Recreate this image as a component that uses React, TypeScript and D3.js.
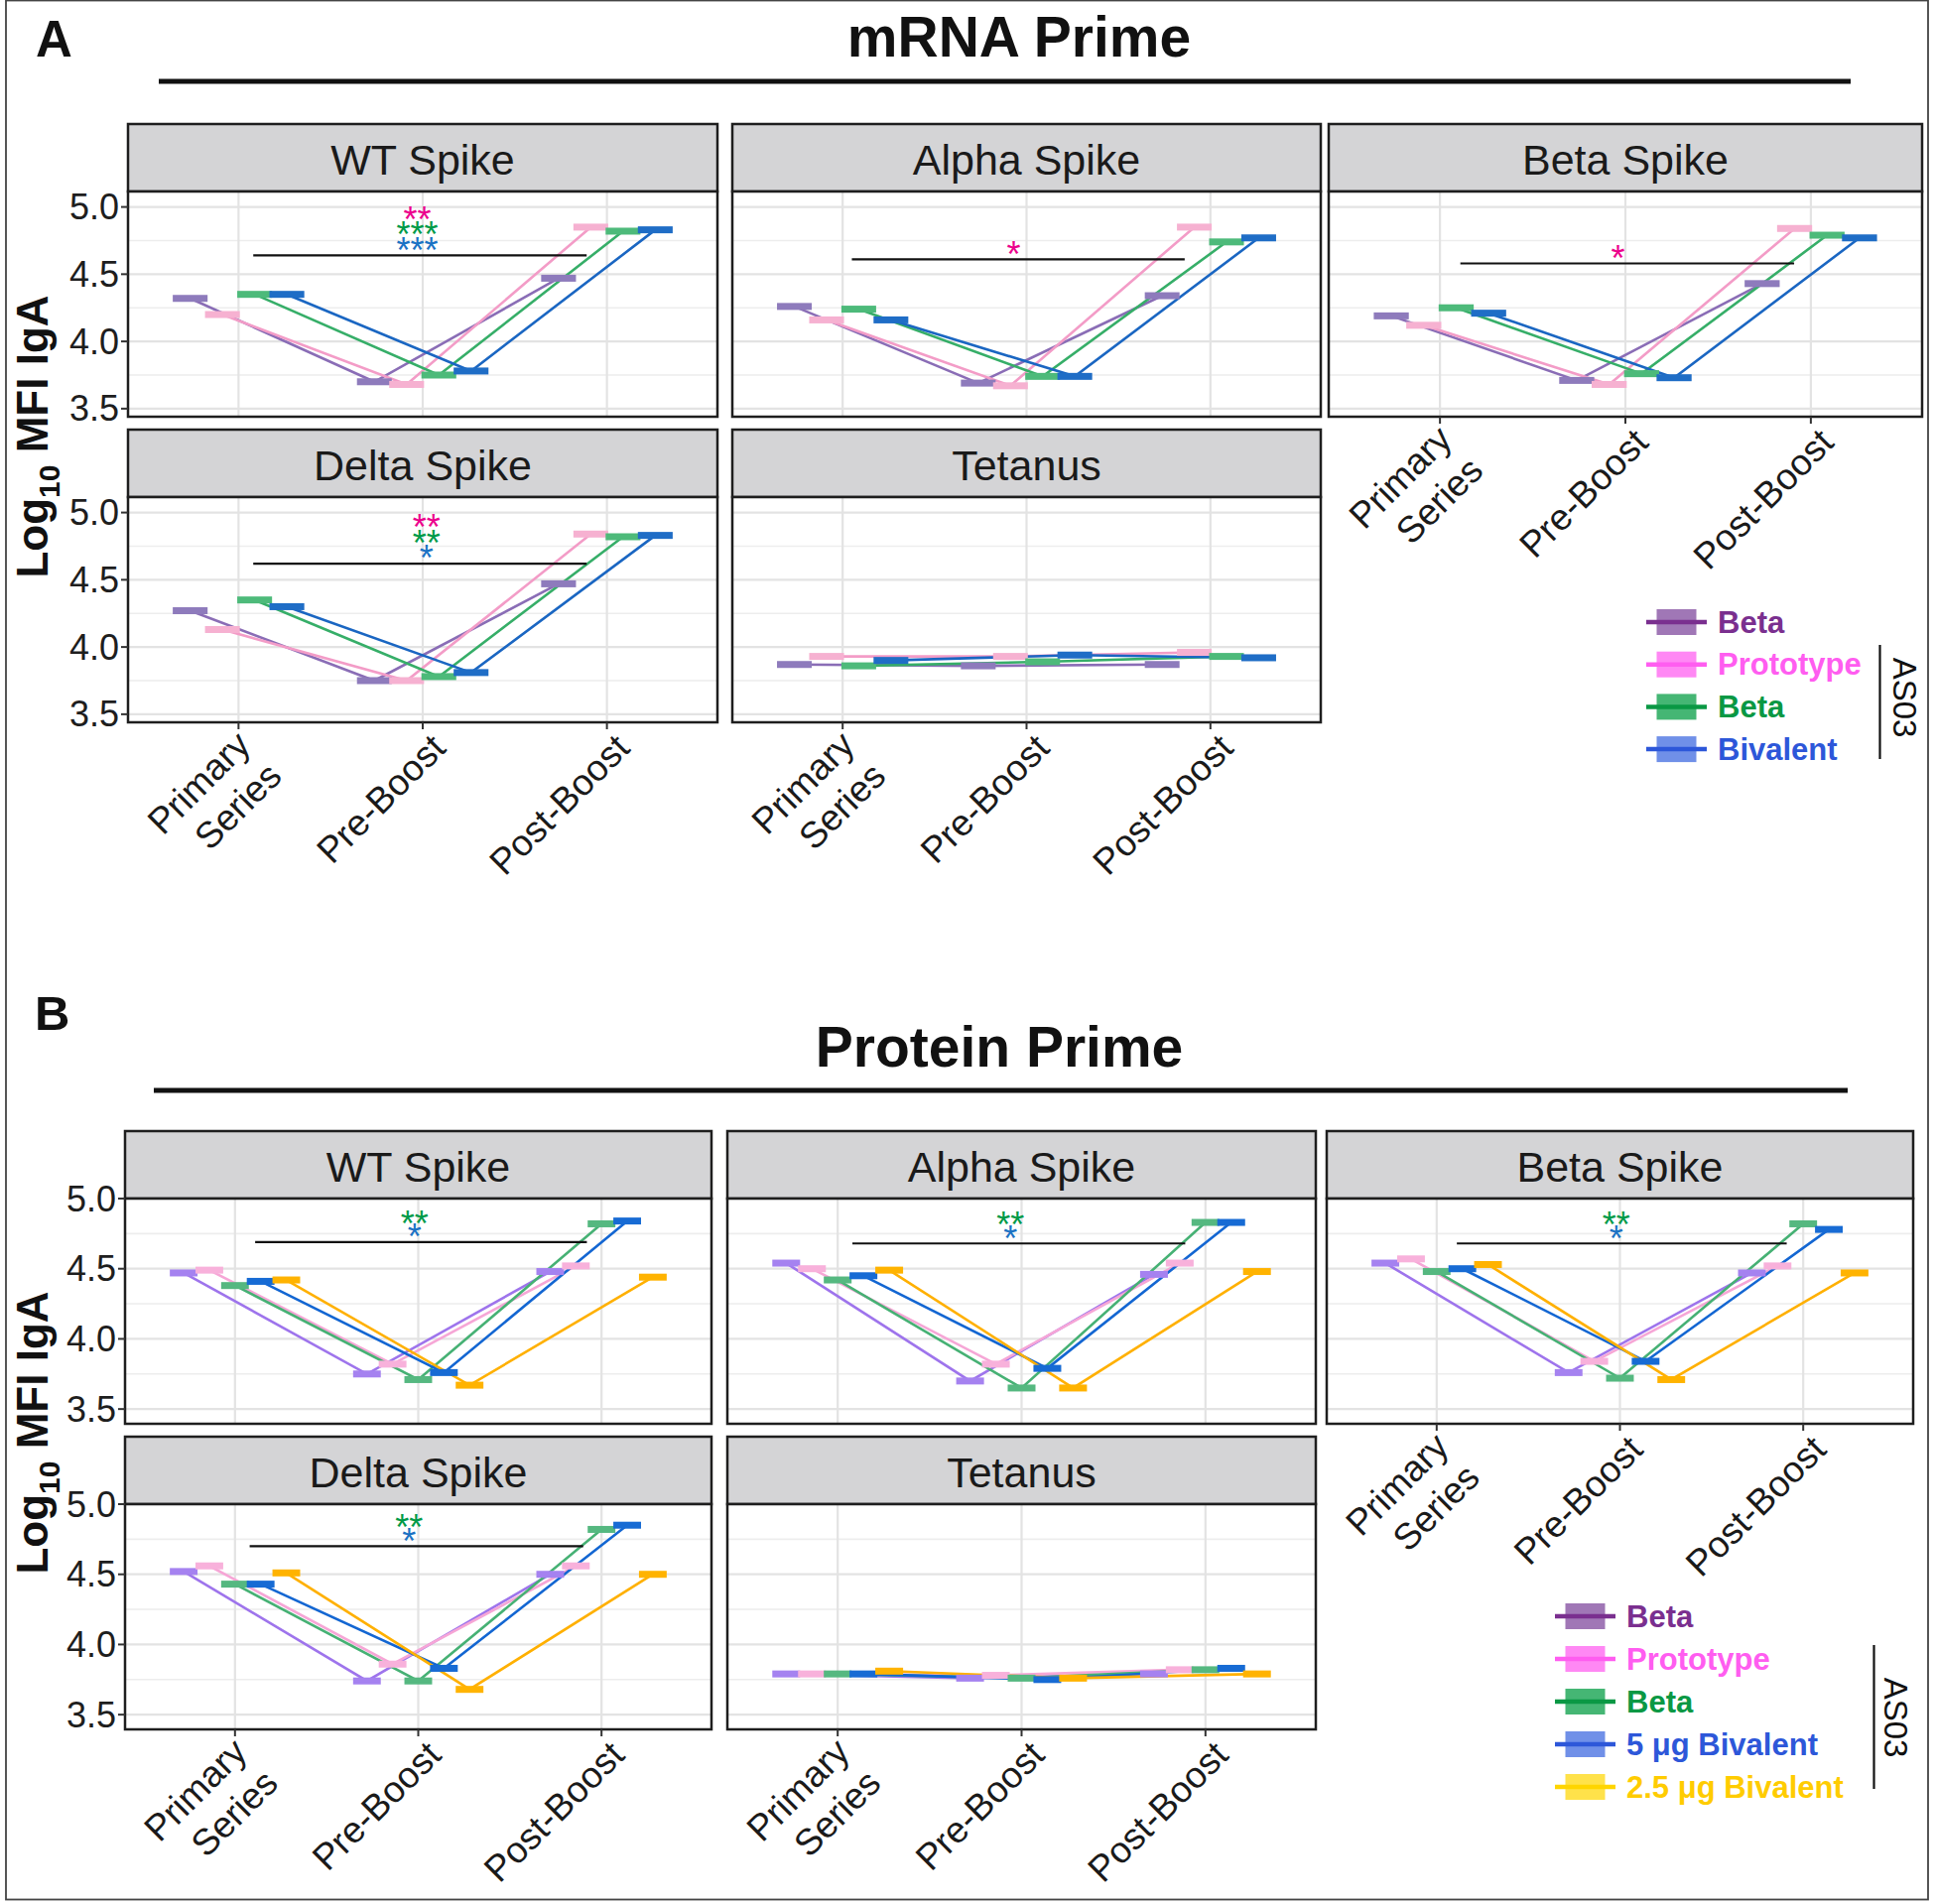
import React from "react";
import * as d3 from "d3";

const W = 1950;
const H = 1919;
const FONT = "'Liberation Sans', Arial, Helvetica, sans-serif";

// ---------- categories ----------
const timepoints = ["Primary Series", "Pre-Boost", "Post-Boost"];
const timepointLines = [["Primary", "Series"], ["Pre-Boost"], ["Post-Boost"]];
const antigens = ["WT Spike", "Alpha Spike", "Beta Spike", "Delta Spike", "Tetanus"];

const groupsA = ["Beta", "Prototype", "Beta", "Bivalent"];
const groupsB = ["Beta", "Prototype", "Beta", "5 μg Bivalent", "2.5 μg Bivalent"];

// ---------- series values (log10 MFI IgA), rows = groups, cols = timepoints ----------
const mrnaWT = [[4.32, 3.70, 4.47], [4.20, 3.68, 4.85], [4.35, 3.75, 4.82], [4.35, 3.78, 4.83]];
const mrnaAlpha = [[4.26, 3.69, 4.34], [4.16, 3.67, 4.85], [4.24, 3.74, 4.74], [4.16, 3.74, 4.77]];
const mrnaBeta = [[4.19, 3.71, 4.43], [4.12, 3.68, 4.84], [4.25, 3.76, 4.79], [4.21, 3.73, 4.77]];
const mrnaDelta = [[4.27, 3.75, 4.47], [4.13, 3.75, 4.84], [4.35, 3.78, 4.82], [4.30, 3.81, 4.83]];
const mrnaTetanus = [[3.87, 3.86, 3.87], [3.93, 3.93, 3.96], [3.86, 3.89, 3.93], [3.90, 3.94, 3.92]];

const proteinWT = [[4.47, 3.75, 4.48], [4.49, 3.82, 4.52], [4.38, 3.71, 4.82], [4.41, 3.76, 4.84], [4.42, 3.67, 4.44]];
const proteinAlpha = [[4.54, 3.70, 4.46], [4.50, 3.82, 4.54], [4.42, 3.65, 4.83], [4.45, 3.79, 4.83], [4.49, 3.65, 4.48]];
const proteinBeta = [[4.54, 3.76, 4.47], [4.57, 3.84, 4.52], [4.48, 3.72, 4.82], [4.50, 3.84, 4.78], [4.53, 3.71, 4.47]];
const proteinDelta = [[4.52, 3.74, 4.50], [4.56, 3.86, 4.56], [4.43, 3.74, 4.82], [4.43, 3.83, 4.85], [4.51, 3.68, 4.50]];
const proteinTetanus = [[3.79, 3.76, 3.79], [3.79, 3.78, 3.82], [3.79, 3.76, 3.82], [3.79, 3.75, 3.83], [3.81, 3.76, 3.79]];

// ---------- significance annotations ----------
const bracketYA = [4.64, 4.61, 4.58, 4.62, null];
const bracketXA = [[1.08, 2.89], [1.05, 2.86], [1.11, 2.91], [1.08, 2.89], null];
const starsA = [
  [["**", 1], ["***", 2], ["***", 3]],
  [["*", 1]],
  [["*", 1]],
  [["**", 1], ["**", 2], ["*", 3]],
  [],
];
const starXA = [1.97, 1.93, 1.96, 2.02, 2];

const bracketYB = [4.69, 4.68, 4.68, 4.70, null];
const bracketXB = [[1.11, 2.92], [1.08, 2.89], [1.11, 2.91], [1.08, 2.90], null];
const starsB = [
  [["**", 2], ["*", 3]],
  [["**", 2], ["*", 3]],
  [["**", 2], ["*", 3]],
  [["**", 2], ["*", 3]],
  [],
];
const starXB = [1.98, 1.94, 1.98, 1.95, 2];

const yMajor = [3.5, 4.0, 4.5, 5.0];
const yMinor = [3.75, 4.25, 4.75];

// ---------- styles ----------
const lineColA = ["#8A6DB6", "#F39CC7", "#36AE68", "#1A66C2"];
const barColA = ["#8E7BBC", "#F6B1D1", "#4DBA7A", "#1F6DC6"];
const lineColB = ["#9E74EC", "#F6A6D6", "#46B174", "#1366D2", "#FFB000"];
const barColB = ["#A582F0", "#F8B1DB", "#55B880", "#176BD4", "#FFB300"];
const starCol = ["#000", "#EC008C", "#009A48", "#1B72C4"];
const legTextA = ["#7A2F8F", "#FF5DF0", "#0A9844", "#2D57D9"];
const legBoxA = ["#A077B6", "#FF88F4", "#45B674", "#7090E8"];
const legLineA = ["#7A2F8F", "#FF5DF0", "#0A9844", "#2D57D9"];
const legTextB = ["#7A2F8F", "#FF5DF0", "#0A9844", "#2D57D9", "#FFCC00"];
const legBoxB = ["#A077B6", "#FF88F4", "#45B674", "#7090E8", "#FFE24A"];
const legLineB = ["#7A2F8F", "#FF5DF0", "#0A9844", "#2D57D9", "#FFD500"];

type PanelProps = {
  x0: number; x1: number; top: number; stripH: number; panelH: number;
  title: string; data: number[][]; lineCol: string[]; barCol: string[];
  yDomain: [number, number]; showY: boolean; showX: boolean;
  bracketY: number | null; bracketX: number[] | null; stars: any[]; starX: number;
  starGap: number;
};

const STAR_FS = 36;
const XLAB_FS = 37;

function Panel(p: PanelProps) {
  const py0 = p.top + p.stripH;
  const py1 = py0 + p.panelH;
  const xp = d3.scalePoint<string>().domain(timepoints).range([p.x0, p.x1]).padding(0.6);
  const step = xp.step();
  const xl = d3.scaleLinear().domain([0.4, 3.6]).range([p.x0, p.x1]);
  const y = d3.scaleLinear().domain(p.yDomain).range([py1, py0]);
  const n = p.data.length;
  const dodge = (0.7 * step) / n;
  const barW = dodge * 1.08;
  const barH = 7;
  const line = d3.line<[number, number]>().x((d) => d[0]).y((d) => d[1]);
  const off = (i: number) => (i - (n - 1) / 2) * dodge;

  const pts = p.data.map((vals, i) =>
    vals.map((v, j) => [(xp(timepoints[j]) as number) + off(i), y(v)] as [number, number])
  );

  const bracketPx = p.bracketY != null ? y(p.bracketY) : 0;
  const sx = xl(p.starX);

  return (
    <g>
      {/* strip */}
      <rect x={p.x0} y={p.top} width={p.x1 - p.x0} height={p.stripH} fill="#D4D4D6" stroke="#1E1E1E" strokeWidth={2.5} />
      <text x={(p.x0 + p.x1) / 2} y={p.top + 50.5} textAnchor="middle" fontSize={43} fill="#1A1A1A" fontFamily={FONT}>
        {p.title}
      </text>
      {/* panel */}
      <rect x={p.x0} y={py0} width={p.x1 - p.x0} height={p.panelH} fill="#FFFFFF" />
      {yMinor.map((t) => (
        <line key={"mn" + t} x1={p.x0} x2={p.x1} y1={y(t)} y2={y(t)} stroke="#EDEDED" strokeWidth={1.6} />
      ))}
      {yMajor.map((t) => (
        <line key={"mj" + t} x1={p.x0} x2={p.x1} y1={y(t)} y2={y(t)} stroke="#E3E3E3" strokeWidth={2.2} />
      ))}
      {timepoints.map((t) => (
        <line key={"vx" + t} x1={xp(t)} x2={xp(t)} y1={py0} y2={py1} stroke="#E3E3E3" strokeWidth={2.2} />
      ))}
      {/* series lines */}
      {pts.map((pp, i) => (
        <path key={"l" + i} d={line(pp) || ""} fill="none" stroke={p.lineCol[i]} strokeWidth={2.6} />
      ))}
      {/* mean bars */}
      {pts.map((pp, i) =>
        pp.map((pt, j) => (
          <rect key={"b" + i + "-" + j} x={pt[0] - barW / 2} y={pt[1] - barH / 2} width={barW} height={barH} fill={p.barCol[i]} />
        ))
      )}
      {/* significance */}
      {p.bracketY != null && p.bracketX && (
        <line x1={xl(p.bracketX[0])} x2={xl(p.bracketX[1])} y1={bracketPx} y2={bracketPx} stroke="#111" strokeWidth={2.2} />
      )}
      {p.stars.length > 0 && (
        <text textAnchor="middle" fontSize={STAR_FS} fontFamily={FONT}>
          {p.stars.map((s: any, k: number) => {
            const fromBottom = p.stars.length - 1 - k;
            const cy = bracketPx - 13.5 - fromBottom * p.starGap;
            return (
              <tspan key={"s" + k} x={sx} y={cy + STAR_FS * 0.58} fill={starCol[s[1]]}>
                {s[0]}
              </tspan>
            );
          })}
        </text>
      )}
      <rect x={p.x0} y={py0} width={p.x1 - p.x0} height={p.panelH} fill="none" stroke="#1E1E1E" strokeWidth={2.5} />
      {/* y axis */}
      {p.showY &&
        yMajor.map((t) => (
          <g key={"yt" + t}>
            <line x1={p.x0 - 7} x2={p.x0} y1={y(t)} y2={y(t)} stroke="#333" strokeWidth={2} />
            <text x={p.x0 - 9} y={y(t)} dominantBaseline="central" textAnchor="end" fontSize={36} fill="#1E1E1E" fontFamily={FONT}>
              {t.toFixed(1)}
            </text>
          </g>
        ))}
      {/* x axis */}
      {p.showX &&
        timepoints.map((t, i) => {
          const tx = xp(t) as number;
          const lines = timepointLines[i];
          const ax = lines.length === 1 ? tx + 25 : tx + 14;
          const ay = lines.length === 1 ? py1 + 28 : py1 + 25;
          return (
            <g key={"xt" + t}>
              <line x1={tx} x2={tx} y1={py1} y2={py1 + 7} stroke="#333" strokeWidth={2} />
              <text x={ax} y={ay} textAnchor="end" fontSize={XLAB_FS} fill="#1A1A1A" fontFamily={FONT}
                transform={`rotate(-45, ${ax}, ${ay})`}>
                {lines.map((ln, j) => (
                  <tspan key={ln} x={ax} y={ay + j * XLAB_FS * 1.2}>
                    {ln}
                  </tspan>
                ))}
              </text>
            </g>
          );
        })}
    </g>
  );
}

type SectionProps = {
  cols: number[][]; rowTops: number[]; yDomain: [number, number];
  datasets: number[][][]; lineCol: string[]; barCol: string[];
  bracketY: (number | null)[]; bracketX: (number[] | null)[]; stars: any[][]; starX: number[];
  starGap: number;
};

function Section(s: SectionProps) {
  const cells = [[0, 0], [0, 1], [0, 2], [1, 0], [1, 1]];
  return (
    <g>
      {antigens.map((a, k) => {
        const [r, c] = cells[k];
        return (
          <Panel key={a} x0={s.cols[c][0]} x1={s.cols[c][1]} top={s.rowTops[r]} stripH={68} panelH={227}
            title={a} data={s.datasets[k]} lineCol={s.lineCol} barCol={s.barCol} yDomain={s.yDomain}
            showY={c === 0} showX={r === 1 || c === 2} bracketY={s.bracketY[k]} bracketX={s.bracketX[k]}
            stars={s.stars[k]} starX={s.starX[k]} starGap={s.starGap} />
        );
      })}
    </g>
  );
}

function Legend({ x, y0, gap, labels, text, box, lineC, asLine }: any) {
  return (
    <g>
      {labels.map((lb: string, i: number) => {
        const cy = y0 + i * gap;
        return (
          <g key={i}>
            <rect x={x + 10.5} y={cy - 13} width={40} height={26} fill={box[i]} />
            <line x1={x} x2={x + 61} y1={cy} y2={cy} stroke={lineC[i]} strokeWidth={4.5} />
            <text x={x + 72} y={cy} dominantBaseline="central" fontSize={31} fontWeight="bold" fill={text[i]} fontFamily={FONT}>
              {lb}
            </text>
          </g>
        );
      })}
      <line x1={asLine.x} x2={asLine.x} y1={asLine.y0} y2={asLine.y1} stroke="#111" strokeWidth={2.2} />
      <text x={asLine.tx} y={asLine.ty} textAnchor="middle" dominantBaseline="central" fontSize={33} fill="#111"
        fontFamily={FONT} transform={`rotate(90, ${asLine.tx}, ${asLine.ty})`}>
        AS03
      </text>
    </g>
  );
}

function YTitle({ x, y }: { x: number; y: number }) {
  return (
    <text x={x} y={y} textAnchor="middle" fontSize={44} fontWeight="bold" fill="#111" fontFamily={FONT}
      transform={`rotate(-90, ${x}, ${y})`}>
      Log
      <tspan fontSize={30} dy={12}>10</tspan>
      <tspan dy={-12}> MFI IgA</tspan>
    </text>
  );
}

export default function App() {
  return (
    <svg width={W} height={H} viewBox={`0 0 ${W} ${H}`} style={{ position: "absolute", left: 0, top: 0, background: "#fff" }}>
      <rect x={0} y={0} width={W} height={H} fill="#fff" />
      <rect x={6} y={0.5} width={1937} height={1914} fill="none" stroke="#444" strokeWidth={1.8} />

      {/* Panel A */}
      <text x={36} y={57} fontSize={51} fontWeight="bold" fill="#111" fontFamily={FONT}>A</text>
      <text x={1027} y={57} textAnchor="middle" fontSize={57} fontWeight="bold" fill="#111" fontFamily={FONT}>mRNA Prime</text>
      <line x1={160} x2={1865} y1={82} y2={82} stroke="#111" strokeWidth={5} />
      <YTitle x={48} y={440} />
      <Section cols={[[129, 723], [738, 1331], [1339, 1937]]} rowTops={[125, 433]} yDomain={[3.44, 5.115]}
        datasets={[mrnaWT, mrnaAlpha, mrnaBeta, mrnaDelta, mrnaTetanus]} lineCol={lineColA} barCol={barColA}
        bracketY={bracketYA} bracketX={bracketXA} stars={starsA} starX={starXA} starGap={15.5} />
      <Legend x={1659} y0={627} gap={42.7} labels={groupsA} text={legTextA} box={legBoxA} lineC={legLineA}
        asLine={{ x: 1894.5, y0: 650, y1: 765, tx: 1919, ty: 703 }} />

      {/* Panel B */}
      <text x={35} y={1038} fontSize={49} fontWeight="bold" fill="#111" fontFamily={FONT}>B</text>
      <text x={1007} y={1075} textAnchor="middle" fontSize={57} fontWeight="bold" fill="#111" fontFamily={FONT}>Protein Prime</text>
      <line x1={155} x2={1862} y1={1099} y2={1099} stroke="#111" strokeWidth={5} />
      <YTitle x={48} y={1444} />
      <Section cols={[[126, 717], [733, 1326], [1337, 1928]]} rowTops={[1140, 1448]} yDomain={[3.395, 5.0]}
        datasets={[proteinWT, proteinAlpha, proteinBeta, proteinDelta, proteinTetanus]} lineCol={lineColB} barCol={barColB}
        bracketY={bracketYB} bracketX={bracketXB} stars={starsB} starX={starXB} starGap={13.5} />
      <Legend x={1567} y0={1629} gap={43} labels={groupsB} text={legTextB} box={legBoxB} lineC={legLineB}
        asLine={{ x: 1888.5, y0: 1658, y1: 1803, tx: 1910, ty: 1731 }} />
    </svg>
  );
}
